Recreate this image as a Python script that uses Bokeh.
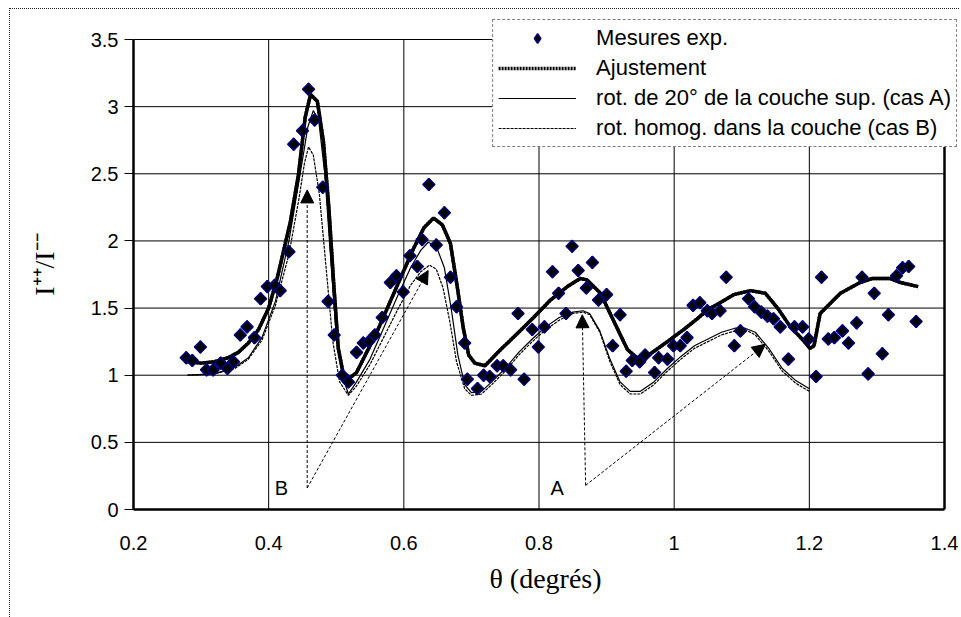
import numpy as np
from bokeh.plotting import figure
from bokeh.models import (Range1d, FixedTicker, Legend, LegendItem, Arrow, NormalHead,
                          Label, ColumnDataSource)
from bokeh.embed import file_html
from bokeh.resources import INLINE

# ---------------- data ----------------
theta_exp = [0.278, 0.287, 0.299, 0.308, 0.318, 0.329, 0.339, 0.348, 0.358, 0.368, 0.379, 0.388,
             0.398, 0.409, 0.417, 0.430, 0.437, 0.450, 0.459, 0.468, 0.480, 0.488, 0.497, 0.509,
             0.518, 0.530, 0.540, 0.548, 0.557, 0.568, 0.580, 0.589, 0.599, 0.609, 0.620, 0.627,
             0.637, 0.648, 0.660, 0.669, 0.678, 0.690, 0.694, 0.709, 0.718, 0.727, 0.738, 0.747,
             0.758, 0.769, 0.778, 0.790, 0.799, 0.808, 0.820, 0.829, 0.840, 0.849, 0.858, 0.870,
             0.879, 0.888, 0.900, 0.909, 0.920, 0.929, 0.938, 0.949, 0.957, 0.971, 0.977, 0.990,
             0.999, 1.009, 1.019, 1.028, 1.038, 1.049, 1.056, 1.068, 1.077, 1.089, 1.098, 1.110,
             1.119, 1.129, 1.138, 1.147, 1.157, 1.169, 1.178, 1.190, 1.199, 1.210, 1.218, 1.228,
             1.237, 1.249, 1.258, 1.270, 1.278, 1.287, 1.296, 1.308, 1.317, 1.329, 1.338, 1.347,
             1.358]
ratio_exp = [1.13, 1.11, 1.21, 1.04, 1.04, 1.09, 1.05, 1.10, 1.30, 1.36, 1.28, 1.57,
             1.66, 1.67, 1.63, 1.92, 2.72, 2.82, 3.13, 2.90, 2.40, 1.55, 1.30, 1.00,
             0.95, 1.17, 1.24, 1.25, 1.30, 1.43, 1.69, 1.74, 1.62, 1.89, 1.81, 2.01,
             2.42, 1.97, 2.21, 1.73, 1.51, 1.24, 0.97, 0.90, 1.00, 0.99, 1.07, 1.07,
             1.04, 1.46, 0.97, 1.34, 1.21, 1.36, 1.77, 1.61, 1.46, 1.96, 1.78, 1.65,
             1.84, 1.56, 1.60, 1.22, 1.45, 1.03, 1.11, 1.10, 1.15, 1.02, 1.13, 1.12,
             1.22, 1.22, 1.28, 1.52, 1.54, 1.48, 1.46, 1.48, 1.73, 1.22, 1.33, 1.57,
             1.51, 1.47, 1.44, 1.42, 1.36, 1.12, 1.36, 1.36, 1.27, 0.99, 1.73, 1.27,
             1.28, 1.33, 1.24, 1.39, 1.73, 1.01, 1.61, 1.16, 1.45, 1.74, 1.80, 1.81,
             1.40]

theta_fit = [0.28, 0.30, 0.32, 0.34, 0.355, 0.37, 0.385, 0.40, 0.413, 0.432, 0.444, 0.454,
             0.462, 0.472, 0.481, 0.489, 0.496, 0.503, 0.51, 0.52, 0.53, 0.545, 0.56, 0.58,
             0.60, 0.615, 0.63, 0.644, 0.657, 0.669, 0.679, 0.688, 0.696, 0.705, 0.72, 0.743,
             0.768, 0.792, 0.817, 0.842, 0.861, 0.871, 0.891, 0.910, 0.931, 0.945, 0.965, 0.99,
             1.014, 1.034, 1.05, 1.068, 1.088, 1.113, 1.135, 1.153, 1.172, 1.191, 1.201, 1.207,
             1.216, 1.246, 1.275, 1.293, 1.32, 1.335, 1.361]
ratio_fit = [1.10, 1.09, 1.10, 1.13, 1.17, 1.24, 1.34, 1.50, 1.73, 2.14, 2.49, 2.92,
             3.09, 3.04, 2.74, 2.25, 1.70, 1.20, 1.02, 0.98, 1.02, 1.17, 1.32, 1.55,
             1.78, 1.95, 2.10, 2.17, 2.12, 1.98, 1.66, 1.35, 1.15, 1.09, 1.07, 1.19,
             1.31, 1.43, 1.56, 1.66, 1.72, 1.71, 1.61, 1.41, 1.19, 1.13, 1.16, 1.25,
             1.34, 1.42, 1.49, 1.54, 1.60, 1.63, 1.61, 1.50, 1.36, 1.26, 1.20, 1.22,
             1.46, 1.61, 1.69, 1.72, 1.72, 1.69, 1.66]

theta_A = [0.28, 0.32, 0.35, 0.37, 0.39, 0.41, 0.43, 0.445, 0.458, 0.466, 0.474, 0.483,
           0.492, 0.50, 0.51, 0.518, 0.53, 0.55, 0.57, 0.59, 0.61, 0.625, 0.636, 0.648,
           0.66, 0.67, 0.68, 0.69, 0.70, 0.715, 0.73, 0.75, 0.77, 0.79, 0.81, 0.83,
           0.85, 0.865, 0.875, 0.89, 0.905, 0.92, 0.935, 0.95, 0.97, 0.99, 1.01, 1.03,
           1.05, 1.07, 1.09, 1.105, 1.12, 1.14, 1.16, 1.18, 1.20]
ratio_A = [1.00, 1.01, 1.06, 1.13, 1.28, 1.55, 2.00, 2.45, 2.85, 2.97, 2.90, 2.50,
           1.85, 1.30, 0.98, 0.86, 0.95, 1.12, 1.35, 1.58, 1.80, 1.93, 1.99, 1.96,
           1.80, 1.50, 1.15, 0.93, 0.87, 0.88, 0.95, 1.05, 1.17, 1.27, 1.36, 1.43,
           1.47, 1.48, 1.46, 1.33, 1.12, 0.95, 0.88, 0.88, 0.95, 1.05, 1.14, 1.22,
           1.27, 1.32, 1.35, 1.35, 1.32, 1.20, 1.05, 0.96, 0.90]

theta_B = [0.28, 0.32, 0.35, 0.37, 0.39, 0.41, 0.43, 0.445, 0.453, 0.459, 0.466, 0.475,
           0.485, 0.495, 0.505, 0.518, 0.53, 0.55, 0.57, 0.59, 0.61, 0.625, 0.638, 0.648,
           0.658, 0.668, 0.678, 0.69, 0.70, 0.715, 0.73, 0.75, 0.77, 0.79, 0.81, 0.83,
           0.85, 0.865, 0.875, 0.89, 0.905, 0.92, 0.935, 0.95, 0.97, 0.99, 1.01, 1.03,
           1.05, 1.07, 1.09, 1.105, 1.12, 1.14, 1.16, 1.18, 1.20]
ratio_B = [1.00, 1.01, 1.05, 1.12, 1.26, 1.52, 1.90, 2.32, 2.58, 2.70, 2.64, 2.35,
           1.80, 1.25, 0.95, 0.85, 0.92, 1.08, 1.28, 1.48, 1.67, 1.77, 1.82, 1.79,
           1.65, 1.40, 1.10, 0.90, 0.85, 0.86, 0.93, 1.03, 1.15, 1.25, 1.34, 1.41,
           1.46, 1.47, 1.45, 1.32, 1.10, 0.93, 0.86, 0.86, 0.93, 1.03, 1.12, 1.20,
           1.25, 1.30, 1.33, 1.34, 1.30, 1.18, 1.03, 0.94, 0.88]

x_ticks = [0.2, 0.4, 0.6, 0.8, 1.0, 1.2, 1.4]
x_tick_labels = ["0.2", "0.4", "0.6", "0.8", "1", "1.2", "1.4"]
y_ticks = [0, 0.5, 1, 1.5, 2, 2.5, 3, 3.5]
y_tick_labels = ["0", "0.5", "1", "1.5", "2", "2.5", "3", "3.5"]

arrow_B_base = (0.457, 0.16)
arrow_B_tips = [(0.457, 2.38), (0.636, 1.78)]
arrow_A_base = (0.869, 0.18)
arrow_A_tips = [(0.864, 1.45), (1.135, 1.23)]
label_B_pos = (0.419, 0.16)
label_A_pos = (0.827, 0.16)

x_lo, x_hi = x_ticks[0], x_ticks[-1]
y_lo, y_hi = y_ticks[0], y_ticks[-1]

# ---------------- layout geometry (pixels) ----------------
ML, MR, MT, MB = 123, 2, 10, 108     # canvas borders around the frame
FW, FH = 824, 490                    # frame size (axis box + room for the legend)
AX_W, AX_H = 811, 470                # pixel size of the 0.2..1.4 / 0..3.5 axis box
x_end = x_lo + FW * (x_hi - x_lo) / AX_W
y_end = y_lo + FH * (y_hi - y_lo) / AX_H

p = figure(frame_width=FW, frame_height=FH, output_backend="svg", toolbar_location=None,
           x_range=Range1d(x_lo, x_end), y_range=Range1d(y_lo, y_end),
           min_border_left=ML, min_border_right=MR, min_border_top=MT, min_border_bottom=MB)
p.styles = {"margin-left": "9px", "margin-top": "8px",
            "border-left": "1px dotted #222", "border-top": "1px dotted #222"}
p.background_fill_color = "white"
p.border_fill_color = "white"
p.outline_line_color = None
p.xgrid.visible = False
p.ygrid.visible = False

sans = "Liberation Sans"
serif = "Liberation Serif"

p.xaxis.ticker = FixedTicker(ticks=x_ticks)
p.xaxis.major_label_overrides = dict(zip(x_ticks, x_tick_labels))
p.xaxis.bounds = (x_lo, x_hi)
p.yaxis.ticker = FixedTicker(ticks=y_ticks)
p.yaxis.major_label_overrides = dict(zip(y_ticks, y_tick_labels))
p.yaxis.bounds = (y_lo, y_hi)
for ax in (p.xaxis, p.yaxis):
    ax.axis_line_width = 2.5
    ax.axis_line_color = "black"
    ax.major_tick_line_color = "black"
    ax.major_tick_line_width = 1
    ax.minor_tick_line_color = None
    ax.major_tick_in = 0
    ax.major_label_text_font = sans
    ax.major_label_text_font_size = "20px"
    ax.major_label_text_color = "black"
    ax.axis_label_text_font = serif
    ax.axis_label_text_font_style = "normal"
    ax.axis_label_text_font_size = "28px"
    ax.axis_label_text_color = "black"
p.xaxis.major_tick_out = 0
p.xaxis.major_label_standoff = 26
p.yaxis.major_tick_out = 9
p.yaxis.major_label_standoff = 6
p.xaxis.axis_label = "θ (degrés)"
p.xaxis.axis_label_standoff = 10
p.yaxis.axis_label = "I⁺⁺/I⁻⁻"
p.yaxis.axis_label_standoff = 28

# grid lines, limited to the axis box
p.segment(x0=x_ticks, y0=[y_lo] * len(x_ticks), x1=x_ticks, y1=[y_hi] * len(x_ticks),
          line_color="black", line_width=1)
p.segment(x0=[x_lo] * len(y_ticks), y0=y_ticks, x1=[x_hi] * len(y_ticks), y1=y_ticks,
          line_color="black", line_width=1)
p.segment(x0=[x_hi], y0=[y_lo], x1=[x_hi], y1=[y_hi], line_color="black", line_width=2.5)

# curves
r_A = p.line(theta_A, ratio_A, line_color="black", line_width=1.2)
r_B = p.line(theta_B, ratio_B, line_color="black", line_width=1.2, line_dash="3 1")
r_fit = p.line(theta_fit, ratio_fit, line_color="black", line_width=3.5)
r_fit_dot = p.line(theta_fit, ratio_fit, line_color="black", line_width=3.5, line_dash="2 1")

src = ColumnDataSource(dict(x=theta_exp, y=ratio_exp))
# a diamond under each rotated square: used for the legend swatch
r_exp_leg = p.scatter("x", "y", source=src, marker="diamond", size=12,
                      fill_color="black", line_color="#000080", line_width=1.5)
r_exp = p.scatter("x", "y", source=src, marker="square", angle=np.pi / 4, size=8.5,
                  fill_color="black", line_color="#000080", line_width=1.5)

# arrows
for base, tips in ((arrow_B_base, arrow_B_tips), (arrow_A_base, arrow_A_tips)):
    for tx, ty in tips:
        p.add_layout(Arrow(end=NormalHead(size=13, fill_color="black", line_color="black"),
                           x_start=base[0], y_start=base[1], x_end=tx, y_end=ty,
                           line_color="black", line_width=1, line_dash="3 2"))

for txt, pos in (("B", label_B_pos), ("A", label_A_pos)):
    p.add_layout(Label(x=pos[0], y=pos[1], text=txt, text_font=sans, text_font_size="20px",
                       text_color="black", text_align="center", text_baseline="middle"))

legend = Legend(items=[
    LegendItem(label="Mesures exp.", renderers=[r_exp_leg]),
    LegendItem(label="Ajustement", renderers=[r_fit_dot]),
    LegendItem(label="rot. de 20° de la couche sup. (cas A)", renderers=[r_A]),
    LegendItem(label="rot. homog. dans la couche (cas B)", renderers=[r_B]),
], location="top_right")
legend.label_text_font = sans
legend.label_text_font_size = "22px"
legend.label_text_color = "black"
legend.label_height = 24
legend.glyph_height = 24
legend.glyph_width = 78
legend.label_standoff = 20
legend.spacing = 4
legend.padding = 5
legend.margin = 0
legend.border_line_color = "black"
legend.border_line_width = 1
legend.border_line_dash = "2 1"
legend.background_fill_color = "white"
legend.background_fill_alpha = 1
p.add_layout(legend, "center")

open("out.html", "w").write(file_html(p, INLINE))
